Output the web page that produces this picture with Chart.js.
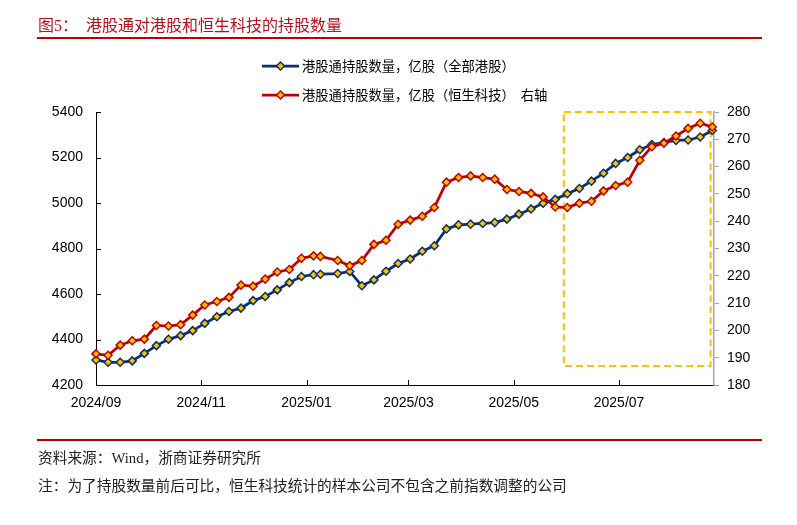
<!DOCTYPE html>
<html>
<head>
<meta charset="utf-8">
<script src="https://cdn.jsdelivr.net/npm/chart.js@4.4.0/dist/chart.umd.min.js"></script>
<style>
body { margin: 0; background: #fff; }
#wrap { position: relative; width: 797px; height: 525px; }
#title { position: absolute; left: 38px; top: 12px; font: 16px "Liberation Serif", "Noto Sans CJK SC", serif; color: #b5121b; white-space: pre; }
.rule { position: absolute; left: 37px; width: 725px; height: 1.5px; background: #c00000; }
.note { position: absolute; left: 38px; font: 14.7px "Liberation Serif", "Noto Sans CJK SC", serif; color: #222; white-space: pre; }
</style>
</head>
<body>
<div id="wrap">
  <canvas id="myChart"></canvas>
  <div id="title">图5：  港股通对港股和恒生科技的持股数量</div>
  <div class="rule" style="top:37px"></div>
  <div class="rule" style="top:439px"></div>
  <div class="note" style="top:446px">资料来源：Wind，浙商证券研究所</div>
  <div class="note" style="top:474px">注：为了持股数量前后可比，恒生科技统计的样本公司不包含之前指数调整的公司</div>
</div>
<script>
// weekly dates
var dates = ['2024-09-01','2024-09-08','2024-09-15','2024-09-22','2024-09-29','2024-10-06','2024-10-13','2024-10-20','2024-10-27',
  '2024-11-03','2024-11-10','2024-11-17','2024-11-24','2024-12-01','2024-12-08','2024-12-15','2024-12-22','2024-12-29',
  '2025-01-05','2025-01-09','2025-01-19','2025-01-26','2025-02-02','2025-02-09','2025-02-16','2025-02-23',
  '2025-03-02','2025-03-09','2025-03-16','2025-03-23','2025-03-30','2025-04-06','2025-04-13','2025-04-20','2025-04-27',
  '2025-05-04','2025-05-11','2025-05-18','2025-05-25','2025-06-01','2025-06-08','2025-06-15','2025-06-22','2025-06-29',
  '2025-07-06','2025-07-13','2025-07-20','2025-07-27','2025-08-03','2025-08-10','2025-08-17','2025-08-24'];
// 全部港股, 亿股 (left axis)
var allHK = [4310,4300,4300,4306,4339,4373,4401,4417,4439,4471,4500,4523,4538,4571,4589,4618,4650,4677,
  4685,4687,4690,4699,4636,4662,4700,4734,4754,4788,4812,4886,4904,4907,4910,4914,4929,4951,4974,4999,
  5016,5041,5064,5096,5131,5174,5200,5234,5257,5266,5275,5277,5290,5319];
// 恒生科技, 亿股 (right axis)
var hsTech = [191.4,190.9,194.6,196.2,196.8,201.8,201.6,202.1,205.6,209.3,210.6,212.1,216.6,216.2,218.8,221.4,222.3,226.4,
  227.3,227.1,225.6,223.7,225.6,231.5,233.0,238.9,240.4,241.8,245.0,254.3,256.0,256.6,256.0,255.4,251.6,250.9,250.2,248.9,
  245.2,245.0,246.6,247.3,251.1,253.1,254.3,262.3,267.3,268.6,271.2,274.0,275.9,274.5];
var tickDates = ['2024-09-01','2024-11-01','2025-01-01','2025-03-01','2025-05-01','2025-07-01'];
var tickLabels = ['2024/09','2024/11','2025/01','2025/03','2025/05','2025/07'];
var axisEnd = '2025-08-25';
var boxDates = ['2025-05-30','2025-08-23'];
var boxRange = [187, 280];

var day0 = Date.parse(dates[0]);
function toDay(s) { return (Date.parse(s) - day0) / 86400000; }

var NAVY = '#0b2f6b', RED = '#c00000', GOLD = '#ffc000';
var tickFont = { family: '"Liberation Sans", Arial, sans-serif', size: 14 };

function diamond(ctx, x, y, r, stroke) {
  ctx.beginPath();
  ctx.moveTo(x, y - r); ctx.lineTo(x + r, y); ctx.lineTo(x, y + r); ctx.lineTo(x - r, y);
  ctx.closePath();
  ctx.fillStyle = GOLD; ctx.fill();
  ctx.lineWidth = 1.5; ctx.strokeStyle = stroke; ctx.stroke();
}

var extras = {
  id: 'extras',
  beforeDatasetsDraw(chart) {
    var ctx = chart.ctx, x = chart.scales.x, y2 = chart.scales.y2;
    var l = x.getPixelForValue(toDay(boxDates[0])), r = x.getPixelForValue(toDay(boxDates[1]));
    var t = y2.getPixelForValue(boxRange[1]), b = y2.getPixelForValue(boxRange[0]);
    ctx.save();
    ctx.setLineDash([7, 4]);
    ctx.lineWidth = 2;
    ctx.strokeStyle = GOLD;
    ctx.strokeRect(l, t, r - l, b - t);
    ctx.restore();
  },
  afterDraw(chart) {
    var ctx = chart.ctx, a = chart.chartArea, s = chart.scales;
    ctx.save();
    ctx.strokeStyle = '#000'; ctx.lineWidth = 1;
    s.y.ticks.forEach(function (tk) {
      var py = Math.round(s.y.getPixelForValue(tk.value)) + 0.5;
      ctx.beginPath(); ctx.moveTo(a.left, py); ctx.lineTo(a.left + 5, py); ctx.stroke();
    });
    s.x.ticks.forEach(function (tk) {
      var px = Math.round(s.x.getPixelForValue(tk.value)) + 0.5;
      ctx.beginPath(); ctx.moveTo(px, a.bottom); ctx.lineTo(px, a.bottom - 5); ctx.stroke();
    });
    // legend, two rows
    var rows = [66, 95];
    chart.data.datasets.forEach(function (ds, i) {
      var ry = rows[i];
      ctx.beginPath(); ctx.moveTo(262, ry); ctx.lineTo(299, ry);
      ctx.lineWidth = 2.75; ctx.strokeStyle = ds.borderColor; ctx.stroke();
      diamond(ctx, 280.5, ry, 4, ds.borderColor);
      ctx.fillStyle = '#000';
      ctx.font = '13.3px "Noto Sans CJK SC", sans-serif';
      ctx.textBaseline = 'middle';
      ctx.fillText(ds.label, 302, ry);
    });
    ctx.restore();
  }
};

var ctx = document.getElementById('myChart').getContext('2d');
new Chart(ctx, {
  type: 'line',
  data: {
    datasets: [{
      label: '港股通持股数量，亿股（全部港股）',
      data: dates.map(function (d, i) { return { x: toDay(d), y: allHK[i] }; }),
      yAxisID: 'y',
      borderColor: NAVY,
      borderWidth: 2.75,
      pointStyle: 'rectRot',
      pointRadius: 4,
      pointBackgroundColor: GOLD,
      pointBorderColor: NAVY,
      pointBorderWidth: 1.5,
      tension: 0,
      clip: false,
      order: 2
    }, {
      label: '港股通持股数量，亿股（恒生科技）  右轴',
      data: dates.map(function (d, i) { return { x: toDay(d), y: hsTech[i] }; }),
      yAxisID: 'y2',
      borderColor: RED,
      borderWidth: 2.75,
      pointStyle: 'rectRot',
      pointRadius: 4,
      pointBackgroundColor: GOLD,
      pointBorderColor: RED,
      pointBorderWidth: 1.5,
      tension: 0,
      clip: false,
      order: 1
    }]
  },
  options: {
    responsive: true,
    maintainAspectRatio: false,
    animation: false,
    layout: { padding: { top: 112, left: 0, right: 0, bottom: 0 } },
    plugins: { legend: { display: false }, tooltip: { enabled: false } },
    scales: {
      x: {
        type: 'linear',
        min: 0,
        max: toDay(axisEnd),
        afterBuildTicks: function (scale) {
          scale.ticks = tickDates.map(function (d) { return { value: toDay(d) }; });
        },
        afterFit: function (scale) { scale.height = 140; },
        ticks: {
          autoSkip: false, maxRotation: 0, padding: 10, color: '#000', font: tickFont,
          callback: function (v, i) { return tickLabels[i]; }
        },
        grid: { display: true, drawOnChartArea: false, drawTicks: false },
        border: { color: '#000', width: 1 }
      },
      y: {
        position: 'left',
        min: 4200, max: 5400,
        afterFit: function (scale) { scale.width = 96; },
        ticks: { stepSize: 200, padding: 13, color: '#000', font: tickFont,
          callback: function (v) { return String(v); } },
        grid: { display: true, drawOnChartArea: false, drawTicks: false },
        border: { color: '#000', width: 1 }
      },
      y2: {
        position: 'right',
        min: 180, max: 280,
        afterFit: function (scale) { scale.width = 83; },
        ticks: { stepSize: 10, padding: 8, color: '#000', font: tickFont },
        grid: { display: true, drawOnChartArea: false, drawTicks: true, tickLength: 5, color: '#a6a6a6' },
        border: { color: '#a6a6a6', width: 1.5 }
      }
    }
  },
  plugins: [extras]
});
</script>
</body>
</html>
